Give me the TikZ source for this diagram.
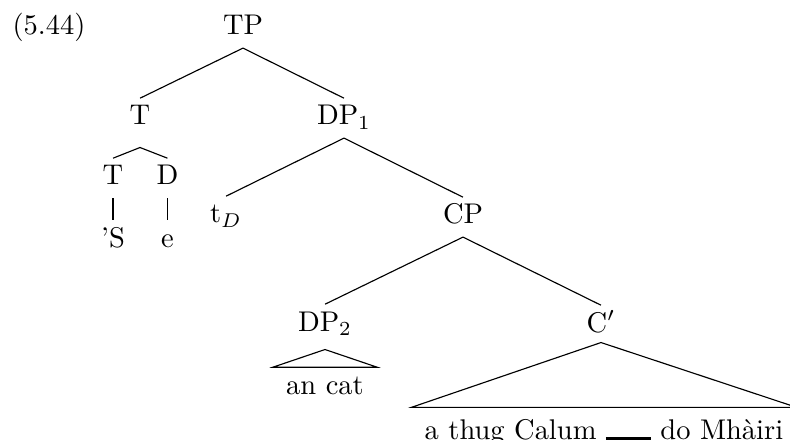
\documentclass[tikz,border=0pt]{standalone}
\begin{document}
\begin{tikzpicture}[x=0.351pt,y=-0.351pt,
  lbl/.style={inner xsep=0pt,inner ysep=0.8pt,anchor=base},
  roof/.style={lbl,inner xsep=4.5pt},
  every path/.style={line width=0.4pt}]
\useasboundingbox (0,0) rectangle (790,440);
\node[lbl,anchor=base west] (ex) at (12,35) {\strut(5.44)};
\node[lbl] (TP) at (243,35) {\strut TP};
\node[lbl] (T) at (140,125) {\strut T};
\node[lbl] (DP1) at (344,125) {\strut DP$_1$};
\node[lbl] (T2) at (113,185) {\strut T};
\node[lbl] (D) at (167.5,185) {\strut D};
\node[lbl] (S) at (113,247) {\strut 'S};
\node[lbl] (e) at (167.5,247) {\strut e};
\node[lbl] (tD) at (226,223) {\strut t$_D$};
\node[lbl] (CP) at (463,224) {\strut CP};
\node[lbl] (DP2) at (325,331) {\strut DP$_2$};
\node[lbl] (Cb) at (601,332) {\strut C$'$};
\node[roof] (an) at (325,394) {\strut an cat};
\node[roof] (cl) at (604,439) {\strut a thug Calum \rule[-0.5pt]{15.8pt}{1.3pt} do Mhàiri};
\draw (TP.south) -- (T.north);
\draw (TP.south) -- (DP1.north);
\draw ([yshift=-3.3pt]T.south) -- (T2.north);
\draw ([yshift=-3.3pt]T.south) -- (D.north);
\draw (T2.south) -- (S.north);
\draw (D.south) -- (e.north);
\draw (DP1.south) -- (tD.north);
\draw (DP1.south) -- (CP.north);
\draw (CP.south) -- (DP2.north);
\draw (CP.south) -- (Cb.north);
\draw ([yshift=-1.9pt]DP2.south) -- (an.north west) -- (an.north east) -- cycle;
\draw ([yshift=0.9pt]Cb.south) -- ([yshift=1.7pt]cl.north west) -- ([yshift=1.7pt]cl.north east) -- cycle;
\end{tikzpicture}
\end{document}
